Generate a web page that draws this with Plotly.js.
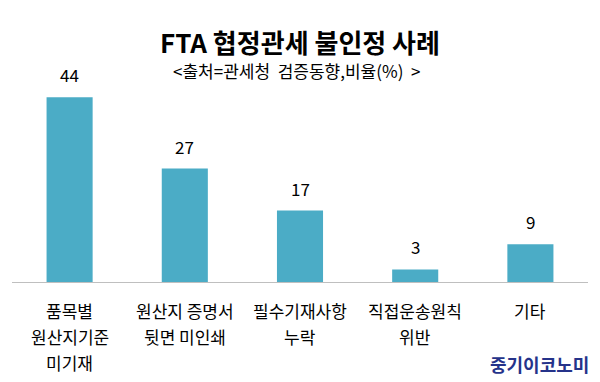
<!DOCTYPE html>
<html>
<head>
<meta charset="utf-8">
<script src="https://cdn.plot.ly/plotly-3.0.1.min.js"></script>
<style>html,body{margin:0;padding:0;background:#fff}#chart{width:600px;height:382px}</style>
</head>
<body>
<div id="chart"></div>
<script>
const categories = ['품목별 원산지기준 미기재', '원산지 증명서 뒷면 미인쇄', '필수기재사항 누락', '직접운송원칙 위반', '기타'];
const categoryLines = [['품목별', '원산지기준', '미기재'], ['원산지 증명서', '뒷면 미인쇄'], ['필수기재사항', '누락'], ['직접운송원칙', '위반'], ['기타']];
const values = [44, 27, 17, 3, 9];

const FONT = '"Noto Sans CJK KR", "Noto Sans", sans-serif';

const annotations = [];
values.forEach((v, i) => {
  annotations.push({x: categories[i], y: v, xref: 'x', yref: 'y', text: String(v), showarrow: false,
    yanchor: 'bottom', yshift: 8, font: {family: FONT, size: 17, color: '#000'}});
});
categoryLines.forEach((lines, i) => {
  lines.forEach((ln, j) => {
    annotations.push({x: categories[i], y: 0, xref: 'x', yref: 'paper', text: ln, showarrow: false,
      yanchor: 'middle', yshift: -28 - 26 * j, font: {family: FONT, size: 17, color: '#000'}});
  });
});
annotations.push({x: 0.5, y: 1, xref: 'paper', yref: 'paper', text: '<출처=관세청  검증동향,비율(%)  >', showarrow: false,
  yanchor: 'middle', yshift: -10, xshift: -4, font: {family: FONT, size: 17, color: '#000'}});
annotations.push({x: 1, y: 0, xref: 'paper', yref: 'paper', text: '<b>중기이코노미</b>', showarrow: false,
  xanchor: 'right', yanchor: 'middle', yshift: -82, xshift: 3, font: {family: FONT, size: 18, color: '#25338a'}});

const data = [{
  type: 'bar', x: categories, y: values,
  marker: {color: '#4bacc6'}, hoverinfo: 'none'
}];

const layout = {
  width: 600, height: 382,
  margin: {l: 12, r: 12, t: 60, b: 100},
  paper_bgcolor: '#fff', plot_bgcolor: '#fff',
  bargap: 0.6,
  showlegend: false,
  title: {text: '<b>FTA 협정관세 불인정 사례</b>', x: 0.5, xanchor: 'center', y: 0.885, yanchor: 'middle',
    font: {family: FONT, size: 26, color: '#000'}},
  xaxis: {showticklabels: false, showline: true, linecolor: '#bfbfbf', linewidth: 1, ticks: '', showgrid: false, zeroline: false, fixedrange: true},
  yaxis: {range: [0, 52.86], visible: false, showgrid: false, zeroline: false, fixedrange: true},
  annotations: annotations
};

Plotly.newPlot('chart', data, layout, {displayModeBar: false, staticPlot: true});
</script>
</body>
</html>
